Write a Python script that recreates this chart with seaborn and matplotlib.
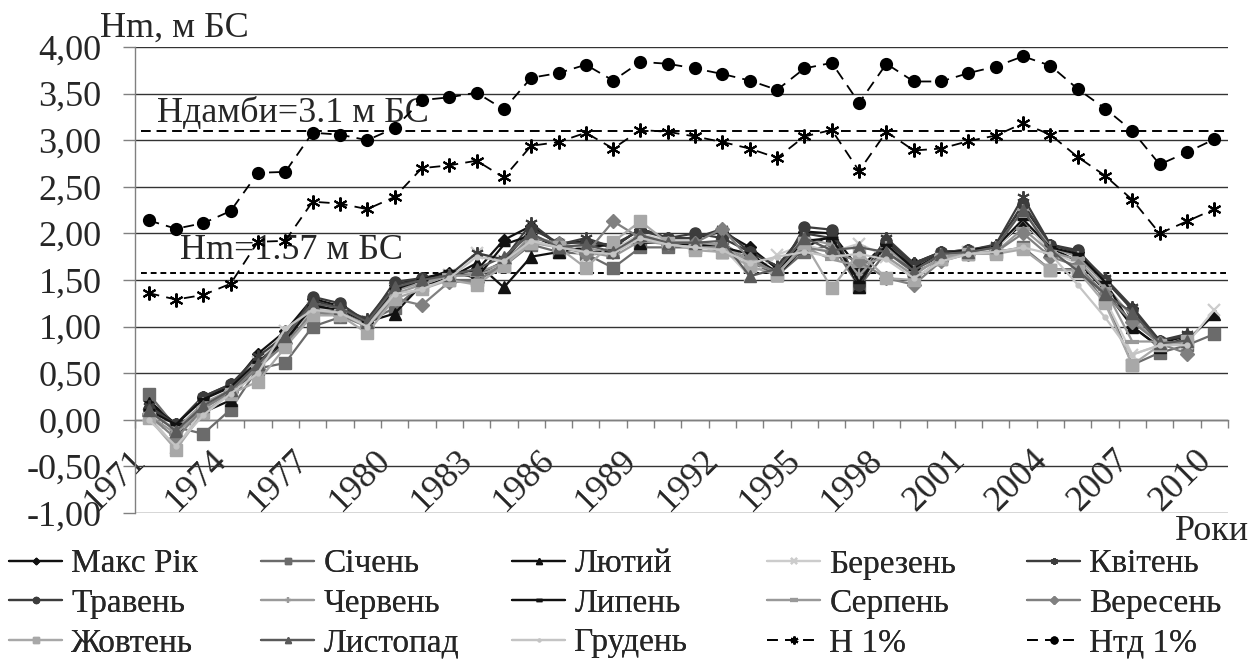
import numpy as np
import pandas as pd
import matplotlib
matplotlib.use("Agg")
import matplotlib.pyplot as plt
from matplotlib.transforms import ScaledTranslation
import seaborn as sns

nan = np.nan
years = list(range(1971, 2011))

maks_rik = [0.21, -0.05, 0.25, 0.35, 0.71, 0.95, 1.30, 1.22, 1.05, 1.45,
            1.52, 1.58, 1.60, 1.93, 2.08, 1.88, 1.92, 1.85, 2.05, 1.95,
            1.95, 2.02, 1.85, 1.62, 2.02, 2.00, 1.62, 1.90, 1.68, 1.80,
            1.82, 1.87, 2.30, 1.88, 1.80, 1.50, 1.20, 0.82, 0.90, nan]
sichen = [0.28, -0.08, -0.15, 0.11, 0.55, 0.61, 1.00, 1.10, 1.05, 1.20,
          1.45, 1.50, 1.50, 1.65, 1.88, 1.80, 1.78, 1.63, 1.85, 1.85,
          1.85, 1.90, 1.70, 1.55, 1.80, 1.88, 1.43, 1.80, 1.58, 1.72,
          1.78, 1.80, 1.85, 1.61, 1.62, 1.30, 0.59, 0.72, 0.80, 0.92]
lyutyi = [0.18, -0.05, 0.08, 0.21, 0.60, 0.82, 1.25, 1.15, 1.05, 1.14,
          1.45, 1.52, 1.68, 1.42, 1.75, 1.80, 1.85, 1.88, 1.90, 1.90,
          1.88, 1.80, 1.75, 1.55, 1.85, 1.98, 1.43, 1.95, 1.62, 1.75,
          1.80, 1.85, 2.11, 1.85, 1.70, 1.39, 1.00, 0.78, 0.85, 1.13]
berezen = [0.05, -0.30, 0.12, 0.30, 0.62, 0.95, 1.20, 1.18, 1.05, 1.40,
           1.45, 1.55, 1.79, 1.70, 1.95, 1.88, 1.75, 1.82, 2.00, 1.92,
           1.92, 1.85, 1.54, 1.77, 1.88, 1.80, 1.89, 1.75, 1.55, 1.75,
           1.80, 1.82, 2.15, 1.80, 1.68, 1.30, 0.70, 0.80, 0.82, 1.18]
kviten = [0.15, -0.05, 0.25, 0.38, 0.68, 0.90, 1.28, 1.20, 1.08, 1.45,
          1.50, 1.55, 1.79, 1.72, 2.11, 1.88, 1.95, 1.85, 2.05, 1.95,
          1.95, 2.05, 1.80, 1.65, 2.00, 1.95, 1.50, 1.95, 1.68, 1.80,
          1.82, 1.88, 2.39, 1.88, 1.80, 1.52, 1.21, 0.85, 0.92, nan]
traven = [0.12, -0.05, 0.25, 0.38, 0.62, 0.85, 1.32, 1.25, 1.05, 1.48,
          1.52, 1.55, 1.55, 1.70, 2.05, 1.90, 1.90, 1.88, 2.03, 1.95,
          2.00, 1.95, 1.80, 1.55, 2.07, 2.04, 1.45, 1.92, 1.65, 1.80,
          1.82, 1.85, 2.32, 1.88, 1.82, 1.50, 1.18, 0.85, 0.90, nan]
cherven = [0.08, -0.10, 0.18, 0.32, 0.58, 0.88, 1.18, 1.15, 1.02, 1.38,
           1.48, 1.55, 1.58, 1.68, 1.98, 1.88, 1.85, 1.78, 1.98, 1.90,
           1.90, 1.88, 1.72, 1.60, 1.95, 1.88, 1.55, 1.85, 1.60, 1.78,
           1.80, 1.85, 2.25, 1.85, 1.75, 1.45, 1.10, 0.80, 0.85, nan]
lypen = [0.10, -0.05, 0.22, 0.35, 0.62, 0.85, 1.22, 1.18, 1.05, 1.40,
         1.50, 1.60, 1.52, 1.88, 1.98, 1.85, 1.80, 1.80, 1.95, 1.88,
         1.88, 1.85, 1.78, 1.58, 1.92, 1.95, 1.48, 1.88, 1.62, 1.78,
         1.82, 1.85, 2.15, 1.85, 1.78, 1.48, 1.00, 0.78, 0.88, nan]
serpen = [0.05, -0.15, 0.12, 0.30, 0.58, 0.80, 1.15, 1.15, 1.00, 1.35,
          1.45, 1.55, 1.55, 1.65, 1.92, 1.85, 1.80, 1.75, 1.92, 1.88,
          1.85, 1.85, 1.70, 1.58, 1.85, 1.72, 1.65, 1.75, 1.55, 1.75,
          1.78, 1.80, 2.05, 1.80, 1.72, 1.40, 0.84, 0.84, 0.82, nan]
veresen = [0.05, -0.20, 0.12, 0.30, 0.55, 0.82, 1.15, 1.12, 1.00, 1.30,
           1.23, 1.48, 1.48, 1.68, 1.95, 1.90, 1.78, 2.13, 1.95, 1.90,
           1.90, 2.05, 1.72, 1.58, 1.85, 1.80, 1.70, 1.52, 1.45, 1.70,
           1.78, 1.80, 2.00, 1.75, 1.65, 1.35, 1.05, 0.82, 0.71, nan]
zhovten = [0.02, -0.32, 0.08, 0.28, 0.41, 0.78, 1.12, 1.12, 0.93, 1.30,
           1.40, 1.50, 1.45, 1.65, 1.90, 1.85, 1.63, 1.91, 2.13, 1.90,
           1.82, 1.80, 1.65, 1.55, 1.90, 1.41, 1.80, 1.52, 1.50, 1.72,
           1.78, 1.78, 1.83, 1.61, 1.60, 1.25, 0.59, 0.80, 0.85, nan]
lystopad = [0.10, -0.12, 0.15, 0.32, 0.60, 0.90, 1.25, 1.20, 1.05, 1.42,
            1.50, 1.55, 1.62, 1.75, 2.00, 1.85, 1.88, 1.80, 1.98, 1.90,
            1.90, 1.92, 1.54, 1.62, 1.95, 1.82, 1.85, 1.80, 1.60, 1.78,
            1.80, 1.85, 2.25, 1.82, 1.60, 1.35, 1.15, 0.82, 0.85, nan]
hruden = [0.00, -0.28, 0.05, 0.28, 0.50, 0.98, 1.18, 1.15, 1.00, 1.35,
          1.40, 1.52, 1.75, 1.70, 1.92, 1.85, 1.80, 1.78, 1.95, 1.88,
          1.85, 1.82, 1.68, 1.75, 1.80, 1.75, 1.78, 1.72, 1.52, 1.70,
          1.78, 1.80, 1.85, 1.78, 1.45, 1.10, 0.70, 0.80, 0.80, nan]
h_1 = [1.36, 1.29, 1.34, 1.46, 1.91, 1.92, 2.34, 2.32, 2.26, 2.39,
       2.70, 2.73, 2.78, 2.60, 2.94, 2.98, 3.08, 2.91, 3.11, 3.09,
       3.04, 2.98, 2.91, 2.81, 3.04, 3.11, 2.67, 3.09, 2.89, 2.91,
       2.99, 3.05, 3.18, 3.06, 2.82, 2.62, 2.36, 2.00, 2.13, 2.26]
htd_1 = [2.14, 2.05, 2.11, 2.24, 2.65, 2.66, 3.08, 3.06, 3.00, 3.13,
         3.43, 3.46, 3.51, 3.33, 3.67, 3.72, 3.81, 3.64, 3.84, 3.82,
         3.77, 3.71, 3.64, 3.54, 3.77, 3.83, 3.40, 3.82, 3.63, 3.63,
         3.72, 3.79, 3.90, 3.80, 3.55, 3.34, 3.10, 2.74, 2.87, 3.01]

dam_level = 3.1
hm_level = 1.57
y_ticks = [-1.0, -0.5, 0.0, 0.5, 1.0, 1.5, 2.0, 2.5, 3.0, 3.5, 4.0]
y_tick_labels = ["-1,00", "-0,50", "0,00", "0,50", "1,00", "1,50",
                 "2,00", "2,50", "3,00", "3,50", "4,00"]
x_label_years = years[::3]

sns.set_style("white")
plt.rcParams["font.family"] = ["Liberation Serif", "DejaVu Serif"]
FS = 26
LFS = 24

fig = plt.figure(figsize=(12.52, 6.61), dpi=100)
ax = fig.add_axes([0.1078, 0.2239, 0.8730, 0.7050])

xpos = np.arange(len(years))
star = (6, 2, 0)
series = [
    ("Макс Рік", maks_rik, "#111111", "D", 6, 1.0),
    ("Січень", sichen, "#6b6b6b", "s", 8, 1.0),
    ("Лютий", lyutyi, "#111111", "^", 9, 1.0),
    ("Березень", berezen, "#cccccc", "x", 8, 1.6),
    ("Квітень", kviten, "#3c3c3c", star, 9, 1.4),
    ("Травень", traven, "#3c3c3c", "o", 8, 1.0),
    ("Червень", cherven, "#9a9a9a", "+", 9, 1.6),
    ("Липень", lypen, "#111111", "_", 8, 2.5),
    ("Серпень", serpen, "#999999", "_", 10, 3.0),
    ("Вересень", veresen, "#808080", "D", 7, 1.0),
    ("Жовтень", zhovten, "#a8a8a8", "s", 8, 1.0),
    ("Листопад", lystopad, "#5a5a5a", "^", 8, 1.0),
    ("Грудень", hruden, "#c4c4c4", ".", 7, 1.0),
]

handles = []
for name, vals, col, mk, ms, mew in series:
    sns.lineplot(x=xpos, y=vals, ax=ax, color=col, marker=mk, markersize=ms,
                 markeredgecolor=col, markerfacecolor=col, markeredgewidth=mew,
                 linewidth=1.6, legend=False, zorder=3)
    ln = ax.lines[-1]
    ln.set_label(name)
    handles.append(ln)

for name, vals, mk, ms in [("Н 1%", h_1, star, 10), ("Нтд 1%", htd_1, "o", 8)]:
    sns.lineplot(x=xpos, y=vals, ax=ax, color="black", marker=mk, markersize=ms,
                 markeredgecolor="black", markerfacecolor="black",
                 markeredgewidth=1.5, linewidth=1.3, linestyle=(0, (6, 4)),
                 legend=False, zorder=4)
    ln = ax.lines[-1]
    ln.set_label(name)
    handles.append(ln)

# reference levels
ax.hlines(dam_level, -0.28, len(years) - 0.5, colors="black", linewidth=1.4,
          linestyles=(0, (5, 3)), zorder=2.5)
ax.hlines(hm_level, -0.28, len(years) - 0.5, colors="black", linewidth=1.4,
          linestyles=(0, (3, 2)), zorder=2.5)
ax.text(0.3, 3.19, "Ндамби=3.1 м БС", fontsize=FS, ha="left", va="baseline", zorder=2)
ax.text(1.15, 1.72, "Hm=1.57 м БС", fontsize=FS, ha="left", va="baseline", zorder=2)

# spines first (set_position resets ticks)
for s in ["top", "right"]:
    ax.spines[s].set_visible(False)
ax.spines["bottom"].set_position(("data", 0))
ax.spines["left"].set_color("#808080")
ax.spines["left"].set_linewidth(1.0)
ax.spines["bottom"].set_color("#808080")
ax.spines["bottom"].set_linewidth(1.0)
ax.set_xlabel("")
ax.set_ylabel("")

ax.set_xlim(-0.5, len(years) - 0.5)
ax.set_ylim(-1, 4)
ax.set_yticks(y_ticks)
ax.set_yticklabels(y_tick_labels, fontsize=FS)
ax.yaxis.grid(True, color="#333333", linewidth=1.0)
ax.xaxis.grid(False)
ax.set_axisbelow(True)
ax.tick_params(axis="y", length=9, width=1, color="#808080", pad=15, direction="out", left=True)

idx_lab = [years.index(y) for y in x_label_years]
ax.set_xticks(idx_lab)
ax.set_xticklabels([str(y) for y in x_label_years], fontsize=FS, rotation=45,
                   ha="right", va="top", rotation_mode="anchor")
ax.set_xticks(np.arange(-0.5, len(years), 1.0), minor=True)
ax.tick_params(axis="x", which="major", length=0, pad=17)
ax.tick_params(axis="x", which="minor", length=6, width=1, color="#808080", direction="out", bottom=True)
shift = ScaledTranslation(-20 / 100, 0, fig.dpi_scale_trans)
for lab in ax.get_xticklabels():
    lab.set_transform(lab.get_transform() + shift)

fig.text(100 / 1252, 1 - 37 / 661, "Hm, м БС", fontsize=FS, ha="left", va="baseline")
fig.text(1249 / 1252, 1 - 532 / 661, "Роки", fontsize=FS, ha="right", va="center")

# legend: 5 columns, 3 rows, row-major order
col_x = [9, 261, 512, 767, 1027]
for c in range(5):
    hs = [handles[r * 5 + c] for r in range(3)]
    leg = fig.legend(handles=hs, labels=[h.get_label() for h in hs],
                     loc="upper left", bbox_to_anchor=(col_x[c] / 1252, 1 - 549 / 661),
                     frameon=False, fontsize=LFS, handlelength=1.6, handletextpad=0.27,
                     labelspacing=0.27, borderpad=0, borderaxespad=0, markerscale=0.55)
    fig.add_artist(leg)

fig.savefig("out.png", dpi=100)
